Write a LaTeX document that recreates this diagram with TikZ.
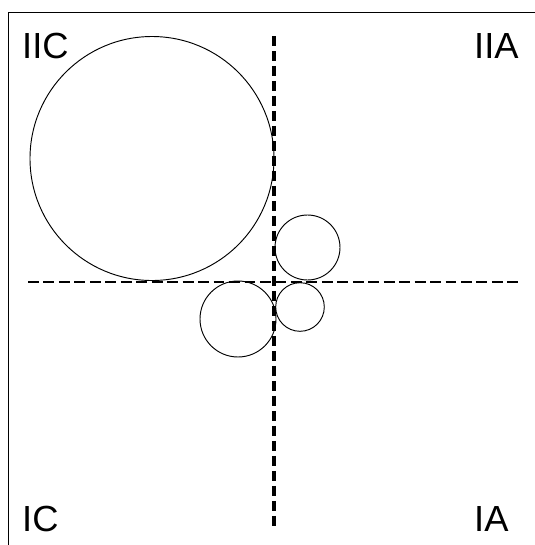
\documentclass[tikz,border=0pt]{standalone}
\usepackage{fontspec}
\setmainfont{Liberation Sans}
\usepackage{tikz}

\begin{document}
\begin{tikzpicture}[yscale=-1,scale=0.03,
  every node/.style={font=\fontsize{31}{36}\selectfont,inner sep=0pt,anchor=base west},
  axis/.style={line width=2pt,dash pattern=on 9.3pt off 3.9pt},
  ring/.style={line width=0.8pt}]
\useasboundingbox (0,0) rectangle (535,545);
% frame
\draw[line width=0.8pt] (8,545)--(8,12)--(535,12);
% axes
\draw[axis] (28,282)--(520,282);
\draw[axis,line width=2.8pt,dash pattern=on 8.5pt off 4.3pt] (274,36)--(274,527);
% circles
\draw[ring] (152,158.5) circle (122);
\draw[ring] (307.5,247.5) circle (32.5);
\draw[ring] (300,307) circle (24.3);
\draw[ring] (238,319) circle (38);
% quadrant labels
\node (iic) at (22,58) {IIC};
\node (iia) at (474,58) {IIA};
\node (ic) at (22,531) {IC};
\node (ia) at (474,531) {IA};
\end{tikzpicture}
\end{document}
